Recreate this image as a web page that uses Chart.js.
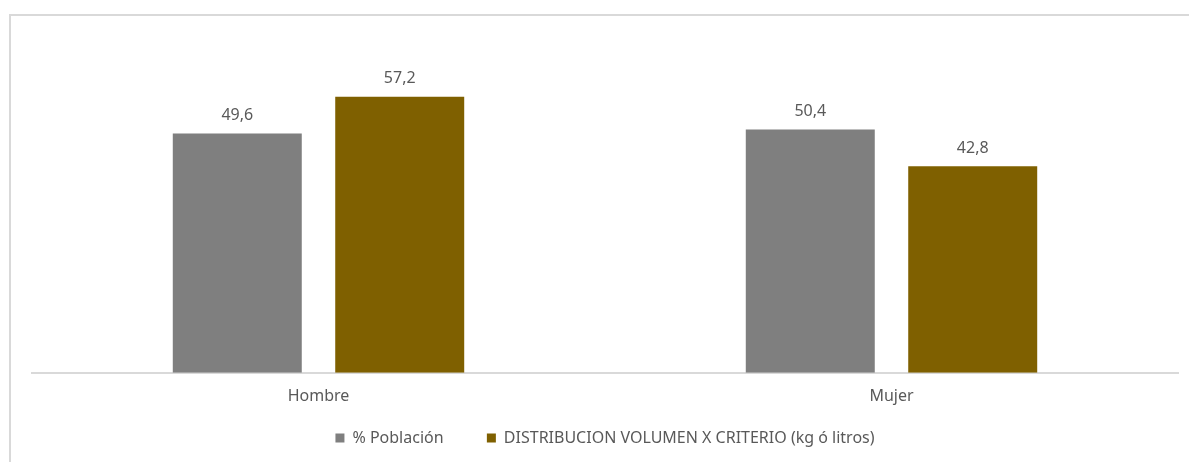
<!DOCTYPE html>
<html>
<head>
<meta charset="utf-8">
<script src="https://cdn.jsdelivr.net/npm/chart.js@4.4.0/dist/chart.umd.min.js"></script>
<style>
  html, body { margin: 0; padding: 0; background: #fff; }
  #wrap { position: relative; width: 1189px; height: 462px; }
  #frame {
    position: absolute; left: 9px; top: 14px; right: 0; bottom: 0;
    border-left: 2px solid #d9d9d9; border-top: 2px solid #d9d9d9;
    pointer-events: none;
  }
</style>
</head>
<body>
<div id="wrap">
  <canvas id="chart" width="1189" height="462"></canvas>
  <div id="frame"></div>
</div>
<script>
const categories = ['Hombre', 'Mujer'];
const seriesNames = ['% Población', 'DISTRIBUCION VOLUMEN X CRITERIO (kg ó litros)'];
const poblacion = [49.6, 50.4];
const volumen = [57.2, 42.8];

const FONT = "'Noto Sans', sans-serif";
const TEXT = '#595959';

// etiquetas de valor encima de cada barra (formato con coma decimal)
const valueLabels = {
  id: 'valueLabels',
  afterDatasetsDraw(chart) {
    const ctx = chart.ctx;
    ctx.save();
    ctx.font = '16px ' + FONT;
    ctx.fillStyle = TEXT;
    ctx.textAlign = 'center';
    ctx.textBaseline = 'bottom';
    chart.data.datasets.forEach((ds, i) => {
      chart.getDatasetMeta(i).data.forEach((bar, j) => {
        const txt = ds.data[j].toFixed(1).replace('.', ',');
        ctx.fillText(txt, bar.x, bar.y - 10);
      });
    });
    ctx.restore();
  }
};

new Chart(document.getElementById('chart'), {
  type: 'bar',
  data: {
    labels: categories,
    datasets: [
      { label: seriesNames[0], data: poblacion, backgroundColor: '#7f7f7f' },
      { label: seriesNames[1], data: volumen, backgroundColor: '#7f6000' }
    ]
  },
  options: {
    responsive: false,
    animation: false,
    categoryPercentage: 0.567,
    barPercentage: 0.794,
    layout: { padding: { left: 32, right: 11, top: 35, bottom: 6 } },
    scales: {
      x: {
        grid: { display: false, drawTicks: false },
        border: { color: '#d9d9d9', width: 2 },
        ticks: { color: TEXT, font: { family: FONT, size: 16 }, padding: 14 }
      },
      y: {
        display: false,
        min: 0,
        max: 70
      }
    },
    plugins: {
      tooltip: { enabled: false },
      legend: {
        position: 'bottom',
        labels: {
          color: TEXT,
          font: { family: FONT, size: 16 },
          boxWidth: 9,
          boxHeight: 9,
          padding: 10,
          // hueco más ancho entre las dos entradas, como en el original
          generateLabels(chart) {
            const items = Chart.defaults.plugins.legend.labels.generateLabels(chart);
            items.forEach((it, i) => { if (i < items.length - 1) it.text += '        '; });
            return items;
          }
        }
      }
    }
  },
  plugins: [valueLabels]
});
</script>
</body>
</html>
